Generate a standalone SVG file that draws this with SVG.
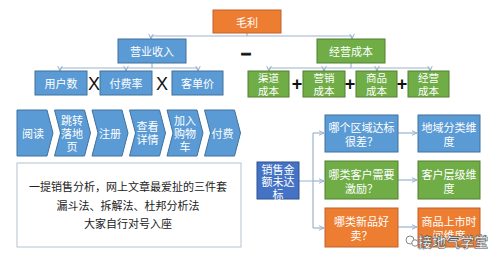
<svg xmlns="http://www.w3.org/2000/svg" width="498" height="261" viewBox="0 0 498 261">
<defs>
<marker id="ah" viewBox="0 0 6 6" refX="5.5" refY="3" markerWidth="6" markerHeight="6" markerUnits="userSpaceOnUse" orient="auto">
<path d="M0,0.5 L5.5,3 L0,5.5" fill="none" stroke="#9DB3CC" stroke-width="1"/>
</marker>
<style>
.t{font-family:"Noto Sans CJK SC","Noto Sans",sans-serif;font-size:11px;fill:#fff;text-anchor:middle;dominant-baseline:central}
.s{font-size:10.5px}
.k{font-family:"Noto Sans CJK SC","Noto Sans",sans-serif;font-size:11px;fill:#222;text-anchor:middle;dominant-baseline:central}
.op{font-family:"Liberation Sans",Arial,sans-serif;font-size:18px;fill:#111;text-anchor:middle;dominant-baseline:central}
.or{fill:#ED7D31;stroke:#C0622A;stroke-width:1}
.bl{fill:#5B9BD5;stroke:#41719C;stroke-width:1}
.db{fill:#4472C4;stroke:#2F528F;stroke-width:1}
.gr{fill:#70AD47;stroke:#507E32;stroke-width:1}
.ln{fill:none;stroke:#9DB3CC;stroke-width:1.2}
</style>
</defs>
<rect width="498" height="261" fill="#fff"/>

<g id="connectors">
<path class="ln" d="M247,33 V36 M151,36 H352"/>
<path class="ln" d="M151,36 V39" marker-end="url(#ah)"/>
<path class="ln" d="M352,36 V39" marker-end="url(#ah)"/>
<path class="ln" d="M152,63 V68 M60,68 H198"/>
<path class="ln" d="M60,68 V71" marker-end="url(#ah)"/>
<path class="ln" d="M126,68 V71" marker-end="url(#ah)"/>
<path class="ln" d="M198,68 V71" marker-end="url(#ah)"/>
<path class="ln" d="M351,63 V68 M269,68 H430"/>
<path class="ln" d="M269,68 V71" marker-end="url(#ah)"/>
<path class="ln" d="M324,68 V71" marker-end="url(#ah)"/>
<path class="ln" d="M377,68 V71" marker-end="url(#ah)"/>
<path class="ln" d="M430,68 V71" marker-end="url(#ah)"/>
<path class="ln" d="M299,181 H313 M313,133 V228"/>
<path class="ln" d="M313,133 H324" marker-end="url(#ah)"/>
<path class="ln" d="M313,181 H324" marker-end="url(#ah)"/>
<path class="ln" d="M313,228 H324" marker-end="url(#ah)"/>
<path class="ln" d="M398,133 H417" marker-end="url(#ah)"/>
<path class="ln" d="M398,180 H417" marker-end="url(#ah)"/>
<path class="ln" d="M398,227 H417" marker-end="url(#ah)"/>
</g>

<g id="maoli"><rect class="or" x="213" y="10" width="68" height="23"/><text class="t" x="247" y="21.5">毛利</text></g>
<g id="yingye"><rect class="bl" x="118" y="39" width="68" height="24"/><text class="t" x="152" y="51">营业收入</text></g>
<g id="jingying"><rect class="gr" x="317" y="39" width="68" height="24"/><text class="t" x="351" y="51">经营成本</text></g>
<text class="op" x="246" y="52.5" font-weight="bold" font-size="19" stroke="#111" stroke-width="0.9">–</text>

<g id="yonghu"><rect class="bl" x="35" y="71" width="52" height="24"/><text class="t" x="61" y="83">用户数</text></g>
<g id="fufei"><rect class="bl" x="100" y="71" width="52" height="24"/><text class="t" x="126" y="83">付费率</text></g>
<g id="kedan"><rect class="bl" x="172" y="71" width="51" height="24"/><text class="t" x="197.5" y="83">客单价</text></g>
<text class="op" x="94" y="84">X</text>
<text class="op" x="162" y="84">X</text>

<g id="qudao"><rect class="gr" x="248" y="71" width="41" height="26"/><text class="t s" x="268.5" y="77.5">渠道</text><text class="t s" x="268.5" y="90">成本</text></g>
<g id="yingxiao"><rect class="gr" x="303" y="71" width="42" height="26"/><text class="t s" x="324" y="77.5">营销</text><text class="t s" x="324" y="90">成本</text></g>
<g id="shangpin"><rect class="gr" x="356" y="71" width="41" height="26"/><text class="t s" x="376.5" y="77.5">商品</text><text class="t s" x="376.5" y="90">成本</text></g>
<g id="jingying2"><rect class="gr" x="408" y="71" width="41" height="26"/><text class="t s" x="428.5" y="77.5">经营</text><text class="t s" x="428.5" y="90">成本</text></g>
<text class="op" x="297" y="84" font-weight="bold">+</text>
<text class="op" x="350" y="84" font-weight="bold">+</text>
<text class="op" x="402" y="84" font-weight="bold">+</text>

<g id="yuedu"><path class="bl" d="M17,110 H47 L53,133 L47,156 H17 Z"/><text class="t" x="33" y="133">阅读</text></g>
<g id="tiaozhuan"><path class="bl" d="M54.5,110 H84.5 L90.5,133 L84.5,156 H54.5 L60.5,133 Z"/><text class="t" x="72" y="119.5">跳转</text><text class="t" x="72" y="132.5">落地</text><text class="t" x="72" y="145.5">页</text></g>
<g id="zhuce"><path class="bl" d="M92,110 H122 L128,133 L122,156 H92 L98,133 Z"/><text class="t" x="110" y="133">注册</text></g>
<g id="chakan"><path class="bl" d="M129.5,110 H159.5 L165.5,133 L159.5,156 H129.5 L135.5,133 Z"/><text class="t" x="147.5" y="126">查看</text><text class="t" x="147.5" y="139">详情</text></g>
<g id="jiaru"><path class="bl" d="M167,110 H197 L203,133 L197,156 H167 L173,133 Z"/><text class="t" x="185" y="119.5">加入</text><text class="t" x="185" y="132.5">购物</text><text class="t" x="185" y="145.5">车</text></g>
<g id="fufei2"><path class="bl" d="M204.5,110 H234.5 L240.5,133 L234.5,156 H204.5 L210.5,133 Z"/><text class="t" x="222.5" y="133">付费</text></g>

<g id="note"><rect x="17" y="163" width="224" height="84" fill="#fff" stroke="#B4C2D0" stroke-width="1"/>
<text class="k" x="128" y="186">一提销售分析，网上文章最爱扯的三件套</text>
<text class="k" x="128" y="205">漏斗法、拆解法、杜邦分析法</text>
<text class="k" x="128" y="223">大家自行对号入座</text></g>

<g id="xiaoshou"><rect class="db" x="257" y="162" width="42" height="37"/><text class="t" x="278" y="168.5" font-size="12">销售金</text><text class="t" x="278" y="181" font-size="12">额未达</text><text class="t" x="278" y="193.5" font-size="12">标</text></g>

<g id="quyu"><rect class="bl" x="325" y="115" width="73" height="37"/><text class="t" x="361.5" y="127">哪个区域达标</text><text class="t" x="361.5" y="141">很差？</text></g>
<g id="diyu"><rect class="bl" x="418" y="115" width="62" height="37"/><text class="t" x="449" y="127">地域分类维</text><text class="t" x="449" y="141">度</text></g>
<g id="kehu"><rect class="gr" x="325" y="161" width="73" height="38"/><text class="t" x="361.5" y="173.5">哪类客户需要</text><text class="t" x="361.5" y="187.5">激励？</text></g>
<g id="cengji"><rect class="gr" x="418" y="161" width="62" height="38"/><text class="t" x="449" y="173.5">客户层级维</text><text class="t" x="449" y="187.5">度</text></g>
<g id="xinpin"><rect class="or" x="325" y="208" width="73" height="39"/><text class="t" x="361.5" y="221">哪类新品好</text><text class="t" x="361.5" y="235">卖？</text></g>
<g id="shangshi"><rect class="or" x="418" y="208" width="62" height="39"/><text class="t" x="449" y="221">商品上市时</text><text class="t" x="449" y="235">间维度</text></g>

<g id="watermark">
<circle cx="410" cy="240" r="4" fill="#fff" stroke="#888" stroke-width="1"/>
<circle cx="415" cy="243" r="3.2" fill="#fff" stroke="#888" stroke-width="1"/>
<text x="453" y="241" font-family="'Noto Sans CJK SC',sans-serif" font-size="14" font-weight="bold" fill="#fff" stroke="#555" stroke-width="0.6" text-anchor="middle" dominant-baseline="central">接地气学堂</text>
</g>
</svg>
